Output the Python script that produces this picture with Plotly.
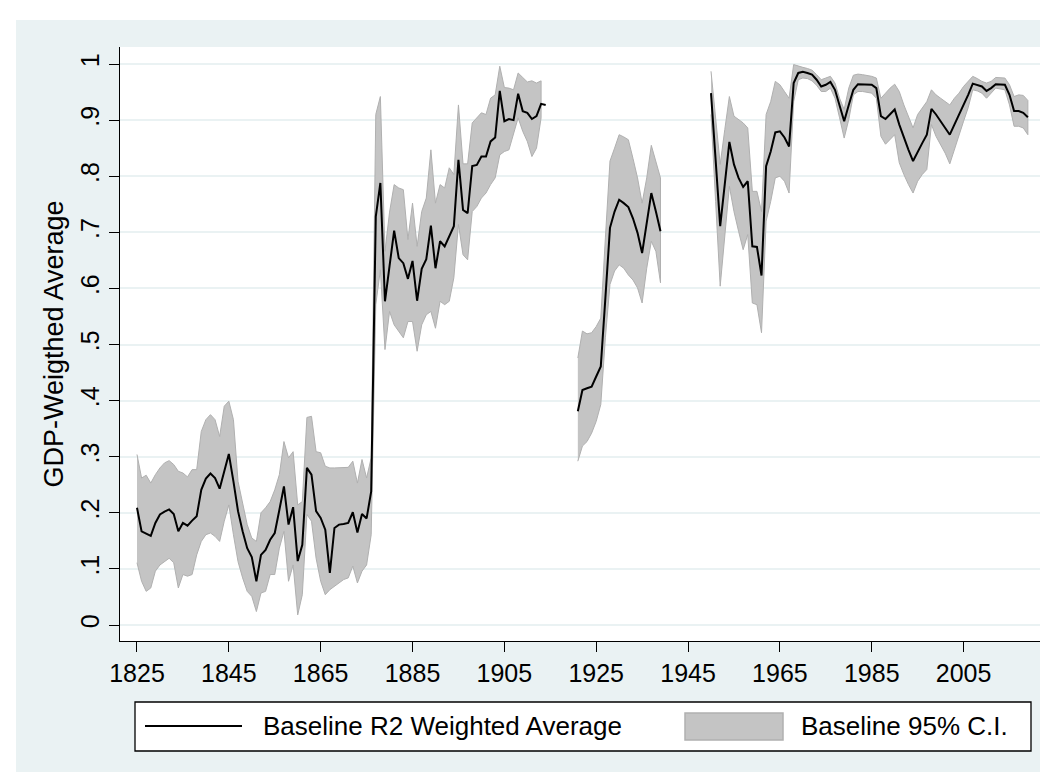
import plotly.graph_objects as go

# ---------------- data ----------------
years_a = list(range(1825, 1915))
mean_a = [.209, .167, .163, .159, .182, .197, .202, .206, .198, .167,
          .182, .177, .186, .194, .241, .261, .270, .262, .243, .276,
          .305, .256, .203, .167, .137, .121, .078, .125, .134, .152,
          .164, .205, .247, .179, .210, .114, .143, .280, .268, .203,
          .191, .170, .093, .173, .179, .180, .182, .201, .165, .198,
          .190, .238, .728, .788, .577, .640, .703, .654, .645, .617,
          .649, .578, .635, .652, .712, .636, .684, .675, .693, .711,
          .829, .740, .734, .818, .820, .835, .835, .862, .869, .952,
          .898, .902, .900, .947, .916, .913, .902, .907, .929, .927]
ci_years_a = list(range(1825, 1914))
hi_a = [.304, .262, .267, .253, .268, .280, .289, .293, .286, .274,
        .271, .264, .277, .277, .345, .366, .375, .366, .336, .390,
        .399, .366, .256, .220, .179, .155, .149, .200, .209, .220,
        .241, .268, .327, .298, .309, .214, .220, .370, .372, .309,
        .307, .283, .280, .280, .280, .280, .281, .292, .253, .295,
        .262, .298, .910, .942, .666, .736, .785, .779, .776, .687,
        .752, .675, .737, .761, .847, .752, .785, .779, .815, .803,
        .927, .822, .822, .895, .904, .913, .910, .939, .945, .996,
        .958, .957, .954, .984, .976, .968, .970, .966, .970]
lo_a = [.111, .078, .060, .066, .096, .107, .113, .119, .111, .066,
        .090, .087, .090, .125, .149, .161, .164, .158, .149, .185,
        .214, .161, .113, .084, .060, .051, .024, .057, .060, .090,
        .090, .137, .167, .078, .107, .018, .054, .197, .185, .119,
        .078, .054, .063, .069, .075, .081, .084, .105, .075, .096,
        .107, .161, .571, .633, .491, .559, .535, .524, .512, .541,
        .541, .488, .535, .553, .559, .529, .577, .571, .577, .619,
        .714, .660, .651, .737, .746, .761, .770, .785, .797, .838,
        .844, .847, .874, .904, .880, .862, .835, .850, .904]

years_b = list(range(1921, 1940))
mean_b = [.381, .419, .422, .425, .443, .461, .583, .708, .737, .758,
          .752, .745, .725, .699, .663, .717, .770, .737, .702]
hi_b = [.476, .524, .519, .521, .532, .547, .690, .827, .850, .874,
        .870, .865, .832, .797, .752, .797, .855, .827, .797]
lo_b = [.292, .319, .327, .342, .363, .393, .512, .607, .631, .642,
        .636, .624, .615, .601, .574, .636, .684, .666, .610]

years_c = list(range(1950, 2020))
mean_c = [.948, .830, .711, .786, .861, .821, .797, .781, .791, .675,
          .674, .623, .818, .844, .878, .880, .869, .853, .966, .984,
          .986, .984, .981, .972, .960, .963, .968, .954, .927, .898,
          .927, .954, .964, .964, .964, .963, .957, .907, .902, .910,
          .919, .892, .868, .847, .827, .844, .859, .874, .920, .910,
          .898, .886, .874, .892, .909, .927, .945, .965, .963, .960,
          .952, .957, .964, .963, .963, .945, .916, .916, .913, .905]
hi_c = [.987, .900, .821, .883, .942, .907, .901, .895, .886, .773,
        .773, .737, .910, .933, .969, .963, .951, .939, .999, .996,
        .994, .992, .989, .981, .972, .975, .978, .966, .939, .919,
        .957, .980, .982, .981, .980, .978, .975, .939, .948, .957,
        .964, .951, .927, .907, .886, .910, .922, .933, .954, .945,
        .939, .933, .927, .939, .948, .960, .970, .978, .974, .969,
        .966, .969, .976, .975, .975, .963, .942, .945, .944, .935]
lo_c = [.910, .755, .604, .690, .782, .737, .702, .669, .696, .574,
        .571, .521, .720, .755, .797, .800, .791, .770, .933, .972,
        .975, .974, .970, .962, .951, .951, .957, .939, .904, .868,
        .901, .945, .951, .951, .950, .948, .939, .871, .857, .865,
        .874, .824, .803, .785, .770, .791, .803, .812, .892, .871,
        .856, .841, .822, .850, .874, .898, .922, .954, .952, .948,
        .939, .948, .957, .956, .954, .927, .889, .889, .886, .874]

x_ticks = list(range(1825, 2006, 20))
y_ticks = [i / 10 for i in range(11)]
y_ticktext = ["0", ".1", ".2", ".3", ".4", ".5", ".6", ".7", ".8", ".9", "1"]

line_label = "Baseline R2 Weighted Average"
band_label = "Baseline 95% C.I."
y_title = "GDP-Weigthed Average"

# ---------------- style ----------------
BG = "#EAF2F3"
BAND_FILL = "#C4C4C4"
BAND_EDGE = "#B0B0B0"
FONT = "Liberation Sans, Arial, sans-serif"
W, H = 1048, 772
ML, MR, MT, MB = 112, 10, 39, 139
PW, PH = W - ML - MR, H - MT - MB


def px(xp):
    return (xp - ML) / PW


def py(yp):
    return (H - MB - yp) / PH


fig = go.Figure()

for ys, hs, ls in [(ci_years_a, hi_a, lo_a), (years_b, hi_b, lo_b), (years_c, hi_c, lo_c)]:
    fig.add_trace(go.Scatter(
        x=ys + ys[::-1], y=hs + ls[::-1], mode="lines", fill="toself",
        fillcolor=BAND_FILL, line=dict(color=BAND_EDGE, width=1),
        name=band_label, hoverinfo="skip", showlegend=False))

for ys, ms in [(years_a, mean_a), (years_b, mean_b), (years_c, mean_c)]:
    fig.add_trace(go.Scatter(
        x=ys, y=ms, mode="lines", line=dict(color="black", width=2),
        name=line_label, showlegend=False))

shapes = [
    # white outer strips
    dict(type="rect", xref="paper", yref="paper", x0=px(-5), x1=px(W + 5), y0=py(12), y1=py(-5),
         fillcolor="white", line=dict(width=0), layer="above"),
    dict(type="rect", xref="paper", yref="paper", x0=px(-5), x1=px(8), y0=py(H + 5), y1=py(-5),
         fillcolor="white", line=dict(width=0), layer="above"),
    dict(type="rect", xref="paper", yref="paper", x0=px(1043), x1=px(W + 5), y0=py(H + 5), y1=py(-5),
         fillcolor="white", line=dict(width=0), layer="above"),
    # legend box
    dict(type="rect", xref="paper", yref="paper", x0=px(127), x1=px(1023), y0=py(743), y1=py(694),
         fillcolor="white", line=dict(color="black", width=1.3), layer="above"),
    dict(type="line", xref="paper", yref="paper", x0=px(137), x1=px(234), y0=py(718), y1=py(718),
         line=dict(color="black", width=2), layer="above"),
    dict(type="rect", xref="paper", yref="paper", x0=px(677), x1=px(775), y0=py(732), y1=py(705),
         fillcolor=BAND_FILL, line=dict(color=BAND_EDGE, width=1.5), layer="above"),
]

annotations = [
    dict(text=line_label, xref="paper", yref="paper", x=px(253), y=py(718),
         xanchor="left", yanchor="middle", showarrow=False, font=dict(size=26, color="black")),
    dict(text=band_label, xref="paper", yref="paper", x=px(791), y=py(718),
         xanchor="left", yanchor="middle", showarrow=False, font=dict(size=26, color="black")),
]

fig.update_layout(
    width=W, height=H,
    margin=dict(l=ML, r=MR, t=MT, b=MB, pad=0),
    paper_bgcolor=BG, plot_bgcolor="white",
    font=dict(family=FONT, color="black"),
    showlegend=False,
    shapes=shapes, annotations=annotations,
    xaxis=dict(range=[1821.3, 2022.95], tickvals=x_ticks, ticks="outside", ticklen=10,
               tickcolor="black", tickwidth=1, showline=True, linecolor="black", linewidth=1,
               showgrid=False, zeroline=False, tickfont=dict(size=25)),
    yaxis=dict(range=[-0.0285, 1.0303], tickvals=y_ticks, ticktext=y_ticktext, tickangle=-90,
               ticks="outside", ticklen=10, tickcolor="black", tickwidth=1,
               showline=True, linecolor="black", linewidth=1,
               showgrid=True, gridcolor=BG, gridwidth=1.5, zeroline=False,
               tickfont=dict(size=25),
               title=dict(text=y_title, font=dict(size=27), standoff=4)),
)

fig.write_html("out.html")
